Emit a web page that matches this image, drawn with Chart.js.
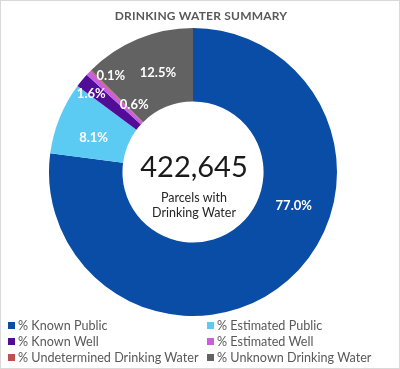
<!DOCTYPE html>
<html>
<head>
<meta charset="utf-8">
<script src="https://cdn.jsdelivr.net/npm/chart.js@4.4.1/dist/chart.umd.min.js"></script>
<style>
  html, body { margin: 0; padding: 0; background: #fff; }
  #wrap { position: relative; width: 400px; height: 369px; box-sizing: border-box; border: 1px solid #d9d9d9; font-family: Lato, "Open Sans", sans-serif; }
  #wrap canvas { position: absolute; left: 0; top: 0; }
  #title { position: absolute; left: 0; top: 7px; width: 400px; text-align: center; font-weight: bold; font-size: 12px; color: #595959; letter-spacing: 0.2px; }
  #legend { position: absolute; left: 7px; top: 317px; display: grid; grid-template-columns: 199px 190px; row-gap: 1px; font-size: 12.6px; color: #595959; }
  #legend span.item { display: flex; align-items: center; height: 15px; white-space: nowrap; }
  #legend span.box { display: inline-block; width: 7px; height: 7px; margin-right: 3px; }
</style>
</head>
<body>
<div id="wrap">
  <canvas id="water" width="400" height="369"></canvas>
  <div id="title">DRINKING WATER SUMMARY</div>
  <div id="legend"></div>
</div>
<script>
// data ------------------------------------------------------------------
const categories = ['% Known Public', '% Estimated Public', '% Known Well', '% Estimated Well', '% Undetermined Drinking Water', '% Unknown Drinking Water'];
const shares = [77.0, 8.1, 1.6, 0.6, 0.1, 12.5];
const sliceColors = ['#0a4da6', '#5ccbf4', '#520d98', '#c95fdc', '#c0504d', '#626262'];
const totalParcels = '422,645';
const centerCaption = ['Parcels with', 'Drinking Water'];

// where Excel dragged the data labels, relative to the slice centre (px)
const labelShift = [[30, -47], [0, 6], [-19, -10], [19, 7], [-6, -21], [6, 0]];

const sliceLabels = {
  id: 'sliceLabels',
  afterDatasetsDraw(chart) {
    const ctx = chart.ctx;
    const meta = chart.getDatasetMeta(0);
    ctx.save();
    ctx.font = 'bold 13px Lato, "Open Sans", sans-serif';
    ctx.fillStyle = '#ffffff';
    ctx.textAlign = 'center';
    ctx.textBaseline = 'middle';
    meta.data.forEach((arc, i) => {
      const p = arc.getCenterPoint();
      ctx.fillText(shares[i].toFixed(1) + '%', p.x + labelShift[i][0], p.y + labelShift[i][1]);
    });
    // text in the hole
    const arc0 = meta.data[0];
    ctx.fillStyle = '#1a1a1a';
    ctx.font = '29px Lato, "Open Sans", sans-serif';
    ctx.fillText(totalParcels, arc0.x + 1, arc0.y - 4);
    ctx.fillStyle = '#262626';
    ctx.font = '12.5px Lato, "Open Sans", sans-serif';
    ctx.fillText(centerCaption[0], arc0.x + 1, arc0.y + 26);
    ctx.fillText(centerCaption[1], arc0.x + 1, arc0.y + 41);
    ctx.restore();
  }
};

const ctx = document.getElementById('water');
const chart = new Chart(ctx, {
  type: 'doughnut',
  data: {
    labels: categories,
    datasets: [{
      data: shares,
      backgroundColor: sliceColors,
      borderWidth: 0
    }]
  },
  options: {
    responsive: false,
    animation: false,
    cutout: '49%',
    layout: { padding: { top: 27, bottom: 54, left: 48, right: 64 } },
    plugins: {
      legend: { display: false },
      title: { display: false },
      tooltip: { enabled: false }
    }
  },
  plugins: [sliceLabels]
});

// two-column legend like the Excel one
const legendEl = document.getElementById('legend');
chart.data.labels.forEach((name, i) => {
  const item = document.createElement('span');
  item.className = 'item';
  item.innerHTML = '<span class="box" style="background:' + sliceColors[i] + '"></span>' + name;
  legendEl.appendChild(item);
});
</script>
</body>
</html>
